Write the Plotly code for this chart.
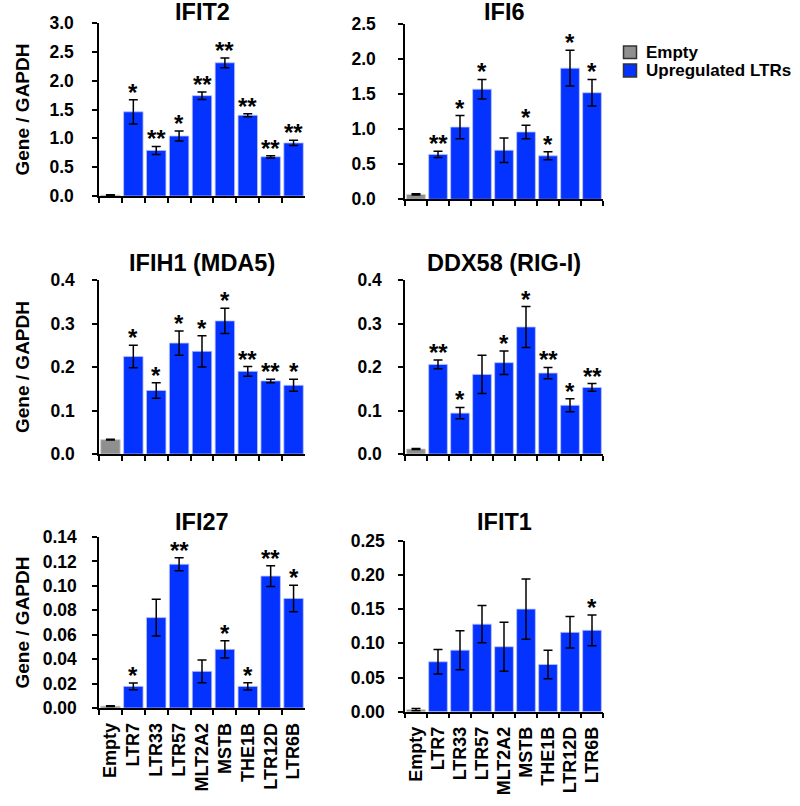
import plotly.graph_objects as go

W, H = 800, 806

categories = ["Empty", "LTR7", "LTR33", "LTR57", "MLT2A2", "MSTB", "THE1B", "LTR12D", "LTR6B"]

ifit2_vals = [0.015, 1.46, 0.79, 1.04, 1.74, 2.31, 1.40, 0.68, 0.92]
ifit2_errs = [0.005, 0.21, 0.07, 0.085, 0.065, 0.085, 0.025, 0.02, 0.045]
ifit2_stars = ["", "*", "**", "*", "**", "**", "**", "**", "**"]

ifi6_vals = [0.07, 0.64, 1.03, 1.57, 0.70, 0.96, 0.62, 1.87, 1.52]
ifi6_errs = [0.01, 0.045, 0.165, 0.14, 0.175, 0.095, 0.057, 0.255, 0.19]
ifi6_stars = ["", "**", "*", "*", "", "*", "*", "*", "*"]

ifih1_vals = [0.033, 0.224, 0.146, 0.255, 0.236, 0.306, 0.190, 0.168, 0.158]
ifih1_errs = [0.001, 0.026, 0.018, 0.028, 0.036, 0.029, 0.011, 0.004, 0.014]
ifih1_stars = ["", "*", "*", "*", "*", "*", "**", "**", "*"]

ddx58_vals = [0.0115, 0.206, 0.094, 0.183, 0.210, 0.292, 0.186, 0.112, 0.153]
ddx58_errs = [0.001, 0.010, 0.013, 0.044, 0.027, 0.047, 0.013, 0.015, 0.009]
ddx58_stars = ["", "**", "*", "", "*", "*", "**", "*", "**"]

ifi27_vals = [0.0015, 0.0177, 0.074, 0.1177, 0.030, 0.048, 0.0177, 0.108, 0.0897]
ifi27_errs = [0.0003, 0.0028, 0.015, 0.0054, 0.0093, 0.007, 0.003, 0.0085, 0.0108]
ifi27_stars = ["", "*", "", "**", "", "*", "*", "**", "*"]

ifit1_vals = [0.003, 0.073, 0.090, 0.128, 0.095, 0.150, 0.069, 0.116, 0.119]
ifit1_errs = [0.0015, 0.018, 0.0285, 0.0273, 0.0358, 0.044, 0.021, 0.023, 0.0224]
ifit1_stars = ["", "", "", "", "", "", "", "", "*"]

titles = ["IFIT2", "IFI6", "IFIH1 (MDA5)", "DDX58 (RIG-I)", "IFI27", "IFIT1"]
y_ranges = [3.0, 2.5, 0.4, 0.4, 0.14, 0.25]
y_dticks = [0.5, 0.5, 0.1, 0.1, 0.02, 0.05]
y_formats = [".1f", ".1f", ".1f", ".1f", ".2f", ".2f"]

legend_names = ["Empty", "Upregulated LTRs"]

panels = [
    (ifit2_vals, ifit2_errs, ifit2_stars),
    (ifi6_vals, ifi6_errs, ifi6_stars),
    (ifih1_vals, ifih1_errs, ifih1_stars),
    (ddx58_vals, ddx58_errs, ddx58_stars),
    (ifi27_vals, ifi27_errs, ifi27_stars),
    (ifit1_vals, ifit1_errs, ifit1_stars),
]

# layout geometry in pixels (left, right, top, bottom)
boxes = [
    (99, 305, 23, 196),
    (405, 603, 24, 199.3),
    (99, 305, 280, 454),
    (405, 603, 280, 454),
    (99, 305, 537, 708),
    (405, 603, 540.7, 711.7),
]
title_y = [12, 12, 263, 263, 522, 522]
label_standoff = [15, 19, 14, 13, 12, 10]

GREY = "#8f8f8f"
BLUE = "#0432ff"
FONT = "Liberation Sans"


def px_x(v):
    return v / W


def px_y(v):
    return 1 - v / H


fig = go.Figure()
annotations = []
shapes = []

for i, ((vals, errs, stars), box) in enumerate(zip(panels, boxes)):
    n = i + 1
    xa = "x" if n == 1 else f"x{n}"
    ya = "y" if n == 1 else f"y{n}"
    fig.add_trace(go.Bar(
        x=categories[:1], y=vals[:1], xaxis=xa, yaxis=ya,
        marker=dict(color=GREY, line=dict(color="#cfcfcf", width=0.8)),
        error_y=dict(type="data", array=errs[:1], color="black", thickness=1.5, width=4.5),
        showlegend=False, name=legend_names[0],
    ))
    fig.add_trace(go.Bar(
        x=categories[1:], y=vals[1:], xaxis=xa, yaxis=ya,
        marker=dict(color=BLUE, line=dict(color="#b8c2ff", width=0.8)),
        error_y=dict(type="data", array=errs[1:], color="black", thickness=1.5, width=4.5),
        showlegend=False, name=legend_names[1],
    ))
    l, r, t, b = box
    xdom = [px_x(l), px_x(r)]
    ydom = [px_y(b), px_y(t)]
    bottom_row = n >= 5
    fig.update_layout(**{
        ("xaxis" if n == 1 else f"xaxis{n}"): dict(
            domain=xdom, anchor=ya, type="category",
            categoryorder="array", categoryarray=categories,
            range=[-0.5, 8.5], automargin=False,
            showline=True, linecolor="black", linewidth=1.5,
            ticks="outside", ticklen=5, tickwidth=1.5, tickcolor="black",
            tickson="boundaries", showgrid=False, zeroline=False,
            showticklabels=bottom_row, tickangle=-90,
            tickfont=dict(family=FONT, size=18, color="black", weight="bold"),
            ticklabelstandoff=6,
        ),
        ("yaxis" if n == 1 else f"yaxis{n}"): dict(
            domain=ydom, anchor=xa, range=[0, y_ranges[i]], automargin=False,
            dtick=y_dticks[i], tick0=0, tickformat=y_formats[i],
            showline=True, linecolor="black", linewidth=1.5,
            ticks="outside", ticklen=5, tickwidth=1.5, tickcolor="black",
            showgrid=False, zeroline=False,
            tickfont=dict(family=FONT, size=17.5, color="black", weight="bold"),
            ticklabelstandoff=label_standoff[i],
        ),
    })
    annotations.append(dict(
        text=titles[i], xref="paper", yref="paper",
        x=px_x((l + r) / 2), y=px_y(title_y[i]), xanchor="center", yanchor="middle",
        showarrow=False, font=dict(family=FONT, size=23.5, color="black", weight="bold"),
    ))
    for c, v, e, s in zip(categories, vals, errs, stars):
        if s:
            annotations.append(dict(
                text=s, x=c, y=v + e, xref=xa, yref=ya,
                xanchor="center", yanchor="bottom", yshift=-8, showarrow=False,
                font=dict(family=FONT, size=24, color="black", weight="bold"),
            ))
    if n % 2 == 1:
        annotations.append(dict(
            text="Gene / GAPDH", xref="paper", yref="paper",
            x=px_x(22), y=px_y((t + b) / 2), xanchor="center", yanchor="middle",
            textangle=-90, showarrow=False,
            font=dict(family=FONT, size=19, color="black", weight="bold"),
        ))

# legend drawn manually (swatches + labels)
legend_colors = [GREY, BLUE]
legend_rows = [(46, 58.5), (64, 77)]
for name, col, (yt, yb) in zip(legend_names, legend_colors, legend_rows):
    shapes.append(dict(type="rect", xref="paper", yref="paper",
                       x0=px_x(623.5), x1=px_x(636.5), y0=px_y(yb), y1=px_y(yt),
                       fillcolor=col, line=dict(color="#333333", width=1.5)))
    annotations.append(dict(
        text=name, xref="paper", yref="paper", x=px_x(644), y=px_y((yt + yb) / 2),
        xanchor="left", yanchor="middle", showarrow=False,
        font=dict(family=FONT, size=17, color="black", weight="bold"),
    ))

fig.update_layout(
    width=W, height=H,
    margin=dict(l=0, r=0, t=0, b=0, pad=0),
    plot_bgcolor="white", paper_bgcolor="white",
    barmode="overlay", bargap=0.15,
    showlegend=False,
    annotations=annotations, shapes=shapes,
)

fig.write_html("out.html", config={"displayModeBar": False},
               post_script="document.body.style.margin='0px';")
